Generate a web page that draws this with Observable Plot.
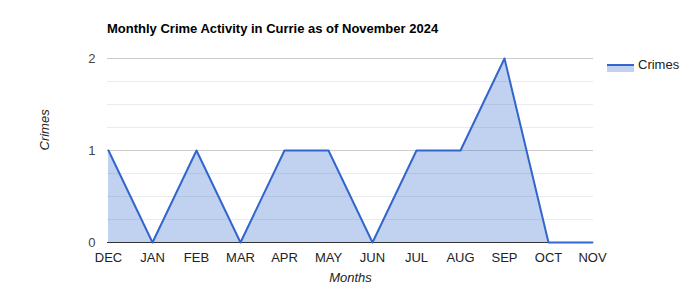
<!DOCTYPE html>
<html>
<head>
<meta charset="utf-8">
<script src="https://cdn.jsdelivr.net/npm/d3@7"></script>
<script src="https://cdn.jsdelivr.net/npm/@observablehq/plot@0.6"></script>
<style>
  body { margin: 0; background: #fff; }
  #wrap { position: relative; width: 700px; height: 300px; font-family: Arial, "Liberation Sans", sans-serif; }
  #title { position: absolute; left: 107px; top: 21px; font-size: 13px; font-weight: bold; color: #000; white-space: nowrap; }
  #legend { position: absolute; left: 607px; top: 57px; font-size: 13px; color: #222; display: flex; align-items: center; white-space: nowrap; }
  #legend svg { margin-right: 4px; }
</style>
</head>
<body>
<div id="wrap">
  <div id="chart"></div>
  <div id="title">Monthly Crime Activity in Currie as of November 2024</div>
  <div id="legend"><svg width="27" height="14"><rect x="0" y="7" width="27" height="7" fill="#3366cc" fill-opacity="0.3"></rect><line x1="0" x2="27" y1="7" y2="7" stroke="#3366cc" stroke-width="2"></line></svg><span>Crimes</span></div>
</div>
<script>
const months = ["DEC","JAN","FEB","MAR","APR","MAY","JUN","JUL","AUG","SEP","OCT","NOV"];
const crimes = [1,0,1,0,1,1,0,1,1,2,0,0];
const majorTicks = [0,1,2];
const minorTicks = [0.25,0.5,0.75,1.25,1.5,1.75];

const data = months.map((m, i) => ({month: m, value: crimes[i]}));

const chart = Plot.plot({
  width: 700,
  height: 300,
  marginLeft: 107,
  marginRight: 107,
  marginTop: 58,
  marginBottom: 58,
  style: {fontFamily: 'Arial, "Liberation Sans", sans-serif', fontSize: "12px", color: "#444", background: "#fff"},
  x: {type: "point", domain: months, padding: 0, label: null},
  y: {domain: [0, 2], label: null},
  marks: [
    Plot.ruleY(minorTicks, {stroke: "#ebebeb", strokeWidth: 1}),
    Plot.ruleY(majorTicks.filter(d => d !== 0), {stroke: "#cccccc", strokeWidth: 1}),
    Plot.areaY(data, {x: "month", y: "value", fill: "#3366cc", fillOpacity: 0.3}),
    Plot.ruleY([0], {stroke: "#333333", strokeWidth: 1}),
    Plot.lineY(data, {x: "month", y: "value", stroke: "#3366cc", strokeWidth: 2}),
    Plot.axisY({ticks: majorTicks, tickSize: 0, tickPadding: 12, tickFormat: d3.format("d"), fontSize: 13, fill: "#444", label: null}),
    Plot.axisX({tickSize: 0, tickPadding: 10, fontSize: 13, fill: "#222", label: null}),
    Plot.text(["Crimes"], {frameAnchor: "left", dx: -63, rotate: -90, fontStyle: "italic", fontSize: 13, fill: "#222"}),
    Plot.text(["Months"], {frameAnchor: "bottom", dy: 39, fontStyle: "italic", fontSize: 13, fill: "#222"})
  ]
});
document.getElementById("chart").appendChild(chart);
</script>
</body>
</html>
